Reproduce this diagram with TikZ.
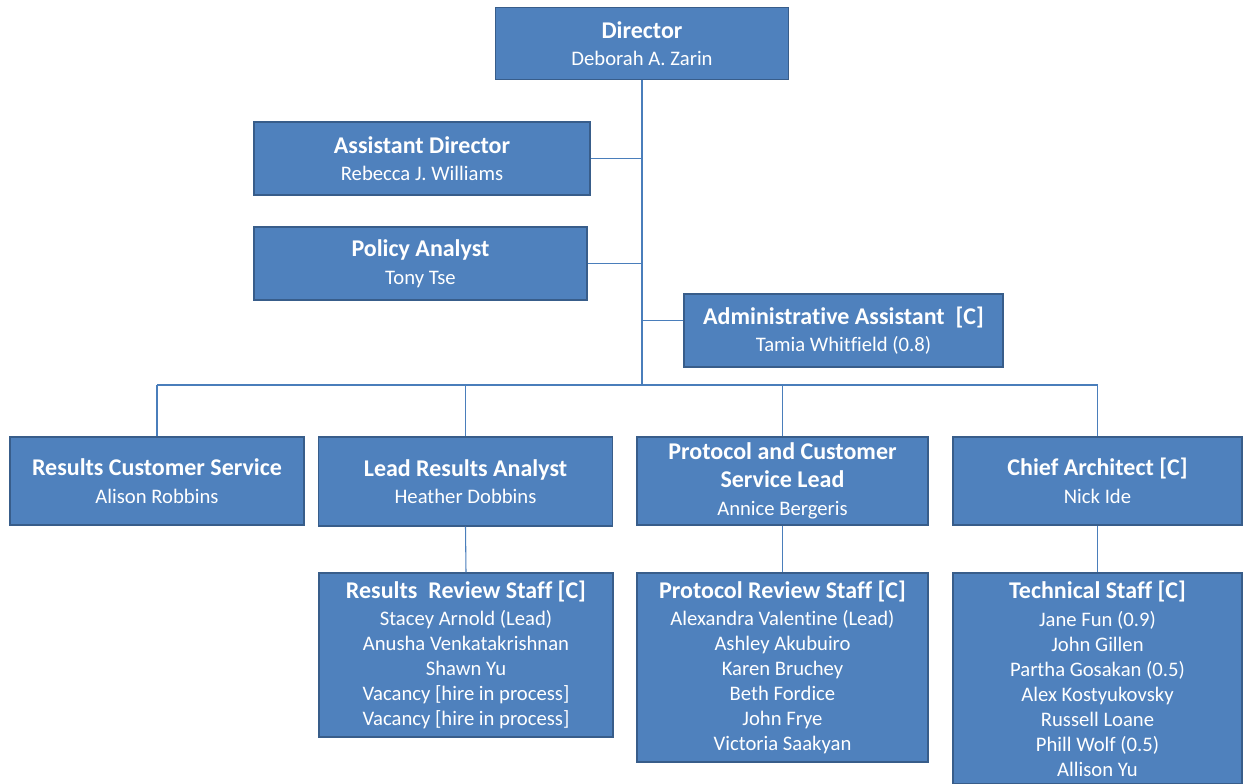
\documentclass[tikz,border=0pt]{standalone}
\usepackage{fontspec}
\setmainfont{Carlito}[Ligatures={NoCommon,NoContextual}, Contextuals={NoAlternate}]
\usetikzlibrary{calc}

\definecolor{boxblue}{HTML}{4F81BD}
\definecolor{boxedge}{HTML}{385D8A}
\definecolor{wireblue}{HTML}{4A7EBB}

\newcommand{\ttl}[1]{{\fontsize{18}{21}\selectfont\bfseries #1}}

\tikzset{every picture/.style={line width=0.75pt}}
\tikzset{
  orgbox/.style={draw=boxedge, fill=boxblue, line width=1.1pt, text=white, align=center,
    inner sep=0pt, font=\fontsize{15.5}{18.75}\selectfont},
  sz/.style 2 args={minimum width=#1*0.75pt, minimum height=#2*0.75pt},
  wire/.style={draw=wireblue, line width=0.8pt}
}

\begin{document}
\begin{tikzpicture}[x=0.75pt,y=0.75pt,yscale=-1,xscale=1]
	\path[use as bounding box] (0,0) rectangle (1243,783);

	%Shape: Rectangle [id:director]
	\node[orgbox, sz={293}{72}] (dir) at (642,43.5) {\ttl{Director}\\[2pt] Deborah A. Zarin};
	%Shape: Rectangle [id:assistant]
	\node[orgbox, sz={336}{73}] (asst) at (422,158.5) {\ttl{Assistant Director}\\[2pt] Rebecca J. Williams};
	%Shape: Rectangle [id:policy]
	\node[orgbox, sz={333}{73}] (policy) at (420.5,263.5) {\ttl{Policy Analyst}\\[2pt] Tony Tse};
	%Shape: Rectangle [id:admin]
	\node[orgbox, sz={319}{73}] (admin) at (843.5,330.5) {\ttl{Administrative Assistant\ \ [C]}\\[2pt] Tamia Whitfield (0.8)};

	%Shape: Rectangle [id:rcs]
	\node[orgbox, sz={294}{88}] (rcs) at (157,481) {\ttl{Results Customer Service}\\[2pt] Alison Robbins};
	%Shape: Rectangle [id:lra]
	\node[orgbox, sz={294}{89}] (lra) at (465.5,481.5) {\ttl{Lead Results Analyst}\\[2pt] Heather Dobbins};
	%Shape: Rectangle [id:pcs]
	\node[orgbox, sz={291}{88}] (pcs) at (782.5,481) {\ttl{Protocol and Customer}\\[2pt] \ttl{Service Lead}\\[2pt] Annice Bergeris};
	%Shape: Rectangle [id:arch]
	\node[orgbox, sz={289}{88}] (arch) at (1097.5,481) {\ttl{Chief Architect [C]}\\[2pt] Nick Ide};

	%Shape: Rectangle [id:rrs]
	\node[orgbox, sz={294}{164}] (rrs) at (466,655) {\ttl{Results\ \ Review Staff [C]}\\[2pt]
		Stacey Arnold (Lead)\\ Anusha Venkatakrishnan\\ Shawn Yu\\ Vacancy [hire in process]\\ Vacancy [hire in process]};
	%Shape: Rectangle [id:prs]
	\node[orgbox, sz={291}{189}] (prs) at (782.5,667.5) {\ttl{Protocol Review Staff [C]}\\[2pt]
		Alexandra Valentine (Lead)\\ Ashley Akubuiro\\ Karen Bruchey\\ Beth Fordice\\ John Frye\\ Victoria Saakyan};
	%Shape: Rectangle [id:tech]
	\node[orgbox, sz={289}{211}] (tech) at (1097.5,678.5) {\ttl{Technical Staff [C]}\\[2pt]
		Jane Fun (0.9)\\ John Gillen\\ Partha Gosakan (0.5)\\ Alex Kostyukovsky\\ Russell Loane\\ Phill Wolf (0.5)\\ Allison Yu};

	% Connectors
	\coordinate (bus) at (642,385);
	\draw[wire] (dir.south) -- (bus);
	\draw[wire] (asst.east) -- (asst.east -| dir.south);
	\draw[wire] (policy.east) -- (policy.east -| dir.south);
	\draw[wire] ([yshift=-7.5pt]admin.west) -- ([yshift=-7.5pt]admin.west -| dir.south);
	\draw[wire] (rcs.north |- bus) -- (arch.north |- bus);
	\foreach \b in {rcs,lra,pcs,arch}
		\draw[wire] (\b.north |- bus) -- (\b.north);
	\draw[wire] (lra.south) -- (rrs.north);
	\draw[wire] (pcs.south) -- (prs.north);
	\draw[wire] (arch.south) -- (tech.north);

\end{tikzpicture}
\end{document}
